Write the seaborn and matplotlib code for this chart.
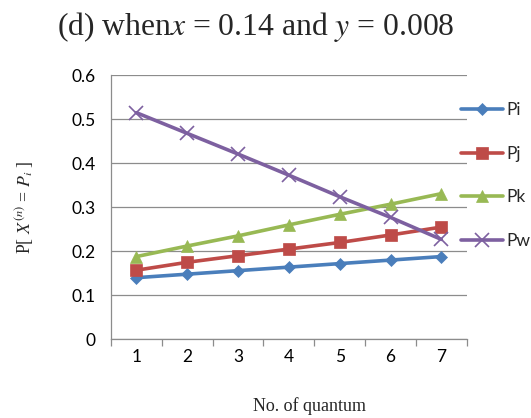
import matplotlib
matplotlib.use("Agg")
import matplotlib.pyplot as plt
import seaborn as sns
import pandas as pd
from matplotlib.ticker import FixedLocator

quantum = [1, 2, 3, 4, 5, 6, 7]
pi_vals = [0.140, 0.148, 0.156, 0.164, 0.172, 0.180, 0.188]
pj_vals = [0.157, 0.175, 0.190, 0.205, 0.220, 0.237, 0.255]
pk_vals = [0.188, 0.212, 0.235, 0.260, 0.284, 0.307, 0.331]
pw_vals = [0.515, 0.468, 0.421, 0.373, 0.324, 0.277, 0.227]
series_names = ["Pi", "Pj", "Pk", "Pw"]
y_ticks = [0, 0.1, 0.2, 0.3, 0.4, 0.5, 0.6]
y_tick_labels = ["0", "0.1", "0.2", "0.3", "0.4", "0.5", "0.6"]

rows = []
for name, vals in zip(series_names, [pi_vals, pj_vals, pk_vals, pw_vals]):
    for q, v in zip(quantum, vals):
        rows.append({"quantum": q, "value": v, "series": name})
df = pd.DataFrame(rows)

sns.set_theme(style="white")
plt.rcParams["font.family"] = ["Lato", "DejaVu Sans"]

fig = plt.figure(figsize=(5.31, 4.18), dpi=100)
ax = fig.add_axes([0.209, 0.1883, 0.670, 0.6316])

palette = {"Pi": "#4A7EBB", "Pj": "#BE4B48", "Pk": "#98B954", "Pw": "#7D60A0"}
markers = {"Pi": "D", "Pj": "s", "Pk": "^", "Pw": "x"}
sizes_m = {"Pi": 6.5, "Pj": 8.5, "Pk": 9, "Pw": 10}

for name in series_names:
    sub = df[df["series"] == name]
    sns.lineplot(data=sub, x="quantum", y="value", ax=ax, color=palette[name],
                 marker=markers[name], markersize=sizes_m[name], linewidth=2.6,
                 markeredgecolor=palette[name], markeredgewidth=1.2 if name == "Pw" else 0.5,
                 label=name, legend=False)

ax.set_xlim(0.5, 7.5)
ax.set_ylim(0, 0.6)
ax.set_yticks(y_ticks)
ax.set_yticklabels(y_tick_labels)
ax.set_xticks(quantum)
ax.set_xticklabels([str(q) for q in quantum])
ax.tick_params(axis="both", labelsize=12.5, colors="#000000", length=0)
ax.tick_params(axis="y", pad=11)
ax.tick_params(axis="x", pad=7)
ax.yaxis.grid(True, color="#8C8C8C", linewidth=0.9)
ax.xaxis.grid(False)
for s in ["top", "right"]:
    ax.spines[s].set_visible(False)
for s in ["left", "bottom"]:
    ax.spines[s].set_color("#8C8C8C")
    ax.spines[s].set_linewidth(0.9)

# Excel style tick marks
ax.xaxis.set_minor_locator(FixedLocator([0.5 + i for i in range(8)]))
ax.tick_params(axis="x", which="minor", length=5, color="#8C8C8C", width=0.9, direction="out", bottom=True)
ax.yaxis.set_minor_locator(FixedLocator(y_ticks))
ax.tick_params(axis="y", which="minor", length=5, color="#8C8C8C", width=0.9, direction="out", left=True)

ax.set_xlabel("")
ax.set_ylabel("")

fig.text(0.482, 0.935, r"(d) when$x$ = 0.14 and $y$ = 0.008", ha="center", va="center",
         fontsize=22.8, family="Liberation Serif", math_fontfamily="stix")
fig.text(0.582, 0.028, "No. of quantum", ha="center", va="center",
         fontsize=13, family="Liberation Serif")
fig.text(0.047, 0.505, r"P[ $X^{(n)}$ = $P_i$ ]", ha="center", va="center", rotation=90,
         fontsize=12.8, family="Liberation Serif", math_fontfamily="stix")

handles, labels = ax.get_legend_handles_labels()
leg = fig.legend(handles, labels, loc="upper left", bbox_to_anchor=(0.855, 0.773),
                 frameon=False, fontsize=12.5, handlelength=2.4, labelspacing=1.6,
                 handletextpad=0.2, borderaxespad=0)

fig.savefig("out.png", dpi=100, facecolor="white")
